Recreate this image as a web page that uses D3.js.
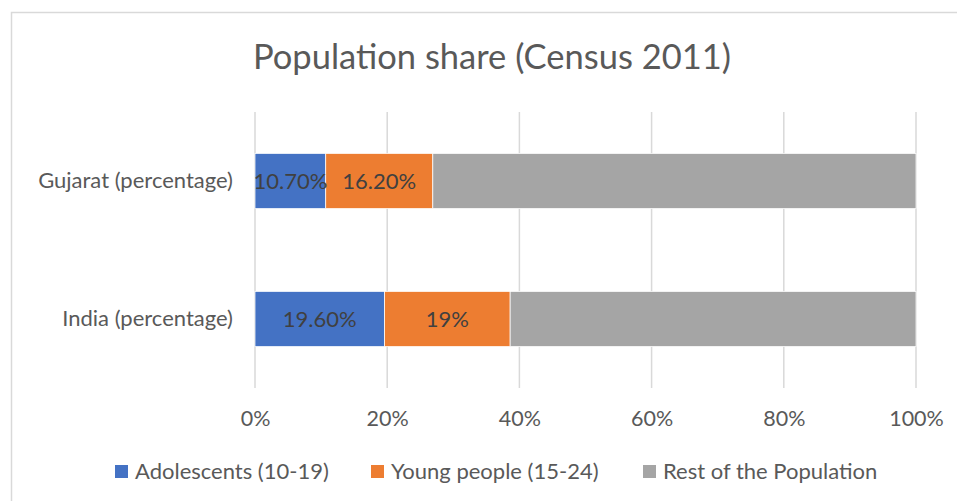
<!DOCTYPE html>
<html><head><meta charset="utf-8">
<script src="https://cdn.jsdelivr.net/npm/d3@7"></script>
<style>body{margin:0;background:#fff}svg{display:block}text{font-family:Lato,"Open Sans",sans-serif}</style>
</head><body><svg id="c" width="957" height="501"></svg>
<script>
const categories = ["Gujarat (percentage)", "India (percentage)"];
const seriesNames = ["Adolescents (10-19)", "Young people (15-24)", "Rest of the Population"];
const adolescents = [10.7, 19.6];
const youngPeople = [16.2, 19];
const rest = [73.1, 61.4];
const labelsAdolescents = ["10.70%", "19.60%"];
const labelsYoung = ["16.20%", "19%"];
const tickValues = [0, 20, 40, 60, 80, 100];
const colors = ["#4472C4", "#ED7D31", "#A5A5A5"];

const svg = d3.select("#c");
svg.append("rect").attr("x", 11.5).attr("y", 12.5).attr("width", 960).attr("height", 500)
  .attr("fill", "#fff").attr("stroke", "#D9D9D9").attr("stroke-width", 1.5);

svg.append("text").attr("x", 492).attr("y", 69).attr("text-anchor", "middle")
  .attr("fill", "#595959").style("font-size", "34.5px").text("Population share (Census 2011)");

const x = d3.scaleLinear().domain([0, 100]).range([255, 916]);
const y = d3.scaleBand().domain(categories).range([112, 388]).paddingInner(0.6).paddingOuter(0.3);

// gridlines
svg.append("g").selectAll("line").data(tickValues).join("line")
  .attr("x1", d => x(d)).attr("x2", d => x(d)).attr("y1", 112).attr("y2", 388)
  .attr("stroke", "#D9D9D9").attr("stroke-width", 1.5);

const rows = categories.map((c, i) => ({cat: c, a: adolescents[i], y: youngPeople[i], r: rest[i]}));
const stack = d3.stack().keys(["a", "y", "r"])(rows);

stack.forEach((layer, li) => {
  svg.append("g").selectAll("rect").data(layer).join("rect")
    .attr("x", d => x(d[0])).attr("width", d => x(d[1]) - x(d[0]))
    .attr("y", d => y(d.data.cat)).attr("height", y.bandwidth())
    .attr("fill", colors[li]).attr("stroke", "#fff").attr("stroke-width", 0.75);
});

const labelSets = [labelsAdolescents, labelsYoung];
labelSets.forEach((labs, li) => {
  svg.append("g").selectAll("text").data(stack[li]).join("text")
    .attr("x", d => (x(d[0]) + x(d[1])) / 2).attr("y", d => y(d.data.cat) + y.bandwidth() / 2)
    .attr("dy", "0.35em").attr("text-anchor", "middle").attr("fill", "#404040")
    .style("font-size", "22px").text((d, i) => labs[i]);
});

// category axis
const yAxis = svg.append("g").attr("transform", "translate(255,0)")
  .call(d3.axisLeft(y).tickSize(0).tickPadding(22));
yAxis.select(".domain").remove();
yAxis.selectAll("text").attr("fill", "#595959").style("font-size", "22px").style("font-family", "Lato, sans-serif");

// value axis
const xAxis = svg.append("g").attr("transform", "translate(0,388)")
  .call(d3.axisBottom(x).tickValues(tickValues).tickSize(0).tickPadding(23).tickFormat(d => d + "%"));
xAxis.select(".domain").remove();
xAxis.selectAll("text").attr("fill", "#595959").style("font-size", "21.5px").style("font-family", "Lato, sans-serif");

// legend
const legX = [115, 371, 643];
const leg = svg.append("g").selectAll("g").data(seriesNames).join("g")
  .attr("transform", (d, i) => `translate(${legX[i]},465)`);
leg.append("rect").attr("width", 13).attr("height", 13).attr("fill", (d, i) => colors[i]);
leg.append("text").attr("x", 20).attr("y", 6.5).attr("dy", "0.35em").attr("fill", "#595959")
  .style("font-size", "22px").text(d => d);
</script></body></html>
